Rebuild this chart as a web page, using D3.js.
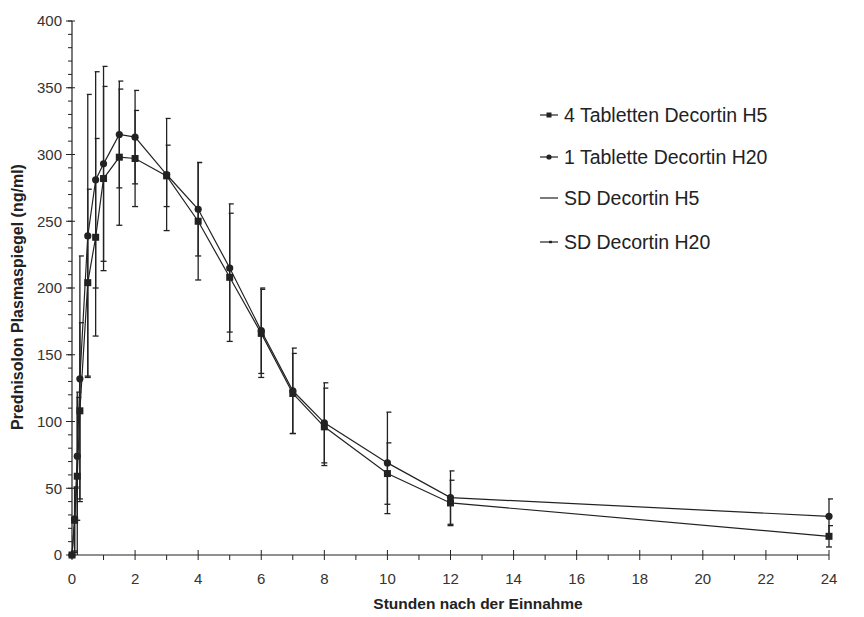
<!DOCTYPE html>
<html>
<head>
<meta charset="utf-8">
<script src="https://cdn.jsdelivr.net/npm/d3@7"></script>
<style>
  body { margin: 0; background: #fff; }
  svg { font-family: "Liberation Sans", Arial, sans-serif; }
</style>
</head>
<body>
<div id="chart"></div>
<script>
// Sampling times (h) and mean +/- SD plasma levels (ng/ml)
const times = [0, 0.083, 0.167, 0.25, 0.5, 0.75, 1, 1.5, 2, 3, 4, 5, 6, 7, 8, 10, 12, 24];
const h5Mean = [0, 26, 59, 108, 204, 238, 282, 298, 297, 284, 250, 208, 166, 121, 96, 61, 39, 14];
const h5SD = [0, 24, 59, 66, 70, 74, 69, 51, 36, 23, 44, 48, 33, 30, 29, 23, 17, 8];
const h20Mean = [0, 27, 74, 132, 239, 281, 293, 315, 313, 285, 259, 215, 168, 123, 99, 69, 43, 29];
const h20SD = [0, 24, 48, 92, 106, 81, 73, 40, 35, 42, 35, 48, 32, 32, 30, 38, 20, 13];

const legendLabels = ["4 Tabletten Decortin H5", "1 Tablette Decortin H20", "SD Decortin H5", "SD Decortin H20"];
const xTicks = d3.range(0, 25, 2);
const yTicks = d3.range(0, 401, 50);

const width = 864, height = 617;
const ink = "#222";

const svg = d3.select("#chart").append("svg")
    .attr("width", width)
    .attr("height", height);

const x = d3.scaleLinear().domain([0, 24]).range([72, 829]);
const y = d3.scaleLinear().domain([0, 400]).range([555, 21]);

// x axis: major ticks every 2 h crossing the line, minor every hour below
const xAxis = svg.append("g").attr("transform", `translate(0,${y(0)})`);
xAxis.append("line").attr("x1", x(0)).attr("x2", x(24)).attr("stroke", ink).attr("stroke-width", 1.2);
xAxis.selectAll("line.minor").data(d3.range(1, 24, 2)).enter().append("line")
    .attr("class", "minor")
    .attr("x1", d => x(d)).attr("x2", d => x(d))
    .attr("y1", 0).attr("y2", 5)
    .attr("stroke", ink);
xAxis.selectAll("line.major").data(xTicks).enter().append("line")
    .attr("class", "major")
    .attr("x1", d => x(d)).attr("x2", d => x(d))
    .attr("y1", -5).attr("y2", 5)
    .attr("stroke", ink);
xAxis.selectAll("text").data(xTicks).enter().append("text")
    .attr("x", d => x(d)).attr("y", 29)
    .attr("text-anchor", "middle")
    .style("font-size", "15px").attr("fill", "#333")
    .text(d => d);

// y axis: labels every 50, minor ticks every 10
const yAxis = svg.append("g").attr("transform", `translate(${x(0)},0)`);
yAxis.append("line").attr("y1", y(0)).attr("y2", y(400)).attr("stroke", ink).attr("stroke-width", 1.2);
yAxis.selectAll("line.minor").data(d3.range(0, 401, 10)).enter().append("line")
    .attr("class", "minor")
    .attr("y1", d => y(d)).attr("y2", d => y(d))
    .attr("x1", -4).attr("x2", 0)
    .attr("stroke", ink);
yAxis.selectAll("line.major").data(yTicks).enter().append("line")
    .attr("class", "major")
    .attr("y1", d => y(d)).attr("y2", d => y(d))
    .attr("x1", -6).attr("x2", 3)
    .attr("stroke", ink);
yAxis.selectAll("text").data(yTicks).enter().append("text")
    .attr("x", -10).attr("y", d => y(d)).attr("dy", "0.35em")
    .attr("text-anchor", "end")
    .style("font-size", "15px").attr("fill", "#333")
    .text(d => d);

// axis titles
svg.append("text")
    .attr("x", 478).attr("y", 609)
    .attr("text-anchor", "middle")
    .style("font-size", "15.5px").style("font-weight", "bold").attr("fill", ink)
    .text("Stunden nach der Einnahme");
svg.append("text")
    .attr("transform", "translate(23,297) rotate(-90)")
    .attr("text-anchor", "middle")
    .style("font-size", "16px").style("font-weight", "bold").attr("fill", ink)
    .text("Prednisolon Plasmaspiegel (ng/ml)");

const series = [
    { mean: h5Mean, sd: h5SD, marker: "square" },
    { mean: h20Mean, sd: h20SD, marker: "circle" }
];

// error bars (SD), lower end cut at zero
series.forEach(s => {
    const g = svg.append("g");
    const bars = times.map((t, i) => ({ t, lo: Math.max(0, s.mean[i] - s.sd[i]), hi: s.mean[i] + s.sd[i] }))
        .filter(d => d.hi > d.lo);
    g.selectAll("line.bar").data(bars).enter().append("line")
        .attr("x1", d => x(d.t)).attr("x2", d => x(d.t))
        .attr("y1", d => y(d.lo)).attr("y2", d => y(d.hi))
        .attr("stroke", ink).attr("stroke-width", 1.3);
    g.selectAll("line.top").data(bars).enter().append("line")
        .attr("x1", d => x(d.t) - 1).attr("x2", d => x(d.t) + 4)
        .attr("y1", d => y(d.hi)).attr("y2", d => y(d.hi))
        .attr("stroke", ink).attr("stroke-width", 1.3);
    g.selectAll("line.bottom").data(bars.filter(d => d.lo > 0)).enter().append("line")
        .attr("x1", d => x(d.t) - 3).attr("x2", d => x(d.t) + 3)
        .attr("y1", d => y(d.lo)).attr("y2", d => y(d.lo))
        .attr("stroke", ink).attr("stroke-width", 1.3);
});

// mean curves with markers
const line = d3.line().x(d => x(d[0])).y(d => y(d[1]));
series.forEach(s => {
    const pts = times.map((t, i) => [t, s.mean[i]]);
    svg.append("path").datum(pts)
        .attr("d", line)
        .attr("fill", "none").attr("stroke", ink).attr("stroke-width", 1.2);
    if (s.marker === "square") {
        svg.append("g").selectAll("rect").data(pts).enter().append("rect")
            .attr("x", d => x(d[0]) - 3.5).attr("y", d => y(d[1]) - 3.5)
            .attr("width", 7).attr("height", 7)
            .attr("fill", ink);
    } else {
        svg.append("g").selectAll("circle").data(pts).enter().append("circle")
            .attr("cx", d => x(d[0])).attr("cy", d => y(d[1]))
            .attr("r", 3.6)
            .attr("fill", ink);
    }
});

// legend
const legendY = [115, 157, 198, 242];
const legend = svg.append("g");
legendLabels.forEach((label, i) => {
    const g = legend.append("g").attr("transform", `translate(540,${legendY[i]})`);
    g.append("line").attr("x1", 0).attr("x2", 18).attr("stroke", ink).attr("stroke-width", 1.2);
    if (i === 0) g.append("rect").attr("x", 6.5).attr("y", -2.5).attr("width", 5).attr("height", 5).attr("fill", ink);
    if (i === 1) g.append("circle").attr("cx", 9).attr("r", 2.6).attr("fill", ink);
    if (i === 3) g.append("line").attr("x1", 9).attr("x2", 12).attr("y1", 0).attr("y2", 0).attr("stroke", ink).attr("stroke-width", 2.4);
    g.append("text")
        .attr("x", 24).attr("dy", "0.35em")
        .style("font-size", "19.5px").attr("fill", ink)
        .text(label);
});
</script>
</body>
</html>
